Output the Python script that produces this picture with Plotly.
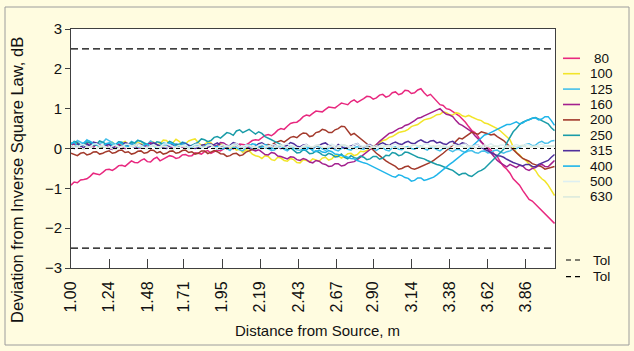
import plotly.graph_objects as go

# ---- data -------------------------------------------------------------
distance_m = [
    1.00, 1.02, 1.04, 1.06, 1.08, 1.10, 1.12, 1.14, 1.16, 1.18, 1.20, 1.22, 1.24, 1.26, 1.28, 1.30, 1.32, 1.34, 1.36, 1.38, 1.40, 1.42,
    1.44, 1.46, 1.48, 1.50, 1.52, 1.54, 1.56, 1.58, 1.60, 1.62, 1.64, 1.66, 1.68, 1.70, 1.72, 1.74, 1.76, 1.78, 1.80, 1.82, 1.84, 1.86,
    1.88, 1.90, 1.92, 1.94, 1.96, 1.98, 2.00, 2.02, 2.04, 2.06, 2.08, 2.10, 2.12, 2.14, 2.16, 2.18, 2.20, 2.22, 2.24, 2.26, 2.28, 2.30,
    2.32, 2.34, 2.36, 2.38, 2.40, 2.42, 2.44, 2.46, 2.48, 2.50, 2.52, 2.54, 2.56, 2.58, 2.60, 2.62, 2.64, 2.66, 2.68, 2.70, 2.72, 2.74,
    2.76, 2.78, 2.80, 2.82, 2.84, 2.86, 2.88, 2.90, 2.92, 2.94, 2.96, 2.98, 3.00, 3.02, 3.04, 3.06, 3.08, 3.10, 3.12, 3.14, 3.16, 3.18,
    3.20, 3.22, 3.24, 3.26, 3.28, 3.30, 3.32, 3.34, 3.36, 3.38, 3.40, 3.42, 3.44, 3.46, 3.48, 3.50, 3.52, 3.54, 3.56, 3.58, 3.60, 3.62,
    3.64, 3.66, 3.68, 3.70, 3.72, 3.74, 3.76, 3.78, 3.80, 3.82, 3.84, 3.86, 3.88, 3.90, 3.92, 3.94, 3.96, 3.98, 4.00, 4.02, 4.04,
]

dev_80 = [
    -0.92, -0.84, -0.86, -0.79, -0.78, -0.76, -0.70, -0.62, -0.64, -0.66, -0.60, -0.53, -0.52, -0.55, -0.50, -0.43, -0.42, -0.45, -0.38, -0.31, -0.35, -0.36,
    -0.30, -0.26, -0.33, -0.34, -0.26, -0.22, -0.31, -0.27, -0.24, -0.18, -0.20, -0.25, -0.23, -0.16, -0.15, -0.19, -0.18, -0.11, -0.12, -0.14, -0.08, -0.05,
    -0.12, -0.08, -0.04, -0.06, -0.02, 0.04, 0.02, -0.01, 0.06, 0.11, 0.10, 0.09, 0.14, 0.20, 0.22, 0.21, 0.27, 0.33, 0.35, 0.32, 0.38, 0.46,
    0.50, 0.48, 0.56, 0.63, 0.65, 0.66, 0.72, 0.80, 0.84, 0.82, 0.88, 0.94, 0.93, 0.92, 0.98, 1.04, 1.03, 1.02, 1.08, 1.14, 1.12, 1.10,
    1.18, 1.22, 1.16, 1.20, 1.25, 1.31, 1.30, 1.24, 1.27, 1.34, 1.36, 1.29, 1.32, 1.40, 1.42, 1.35, 1.38, 1.46, 1.45, 1.38, 1.40, 1.47,
    1.50, 1.40, 1.32, 1.36, 1.28, 1.18, 1.10, 1.08, 1.00, 0.98, 0.93, 0.86, 0.82, 0.74, 0.66, 0.55, 0.45, 0.40, 0.30, 0.16, 0.08, 0.03,
    -0.04, -0.14, -0.20, -0.34, -0.45, -0.52, -0.62, -0.76, -0.84, -0.92, -1.05, -1.18, -1.28, -1.32, -1.40, -1.50, -1.58, -1.64, -1.72, -1.80, -1.88,
]
dev_100 = [
    0.05, 0.14, 0.12, 0.06, 0.08, 0.17, 0.15, 0.07, 0.10, 0.02, 0.04, 0.10, 0.12, 0.16, 0.08, 0.05, 0.14, 0.18, 0.10, 0.13, 0.06, 0.15,
    0.12, 0.07, 0.10, 0.18, 0.16, 0.09, 0.12, 0.21, 0.20, 0.12, 0.14, 0.23, 0.18, 0.10, 0.12, 0.19, 0.22, 0.24, 0.15, 0.08, 0.10, 0.17,
    0.14, 0.06, 0.05, 0.12, 0.08, -0.01, 0.02, 0.04, -0.04, -0.02, -0.10, -0.03, -0.06, -0.14, -0.18, -0.20, -0.25, -0.18, -0.20, -0.28, -0.30, -0.22,
    -0.24, -0.30, -0.32, -0.25, -0.28, -0.35, -0.36, -0.28, -0.30, -0.33, -0.26, -0.30, -0.32, -0.24, -0.22, -0.29, -0.26, -0.17, -0.18, -0.24, -0.20, -0.13,
    -0.12, -0.18, -0.15, -0.07, -0.08, -0.05, -0.02, 0.05, 0.10, 0.13, 0.20, 0.22, 0.28, 0.30, 0.35, 0.40, 0.42, 0.44, 0.48, 0.55, 0.58, 0.60,
    0.66, 0.72, 0.74, 0.76, 0.80, 0.85, 0.86, 0.92, 0.90, 0.85, 0.84, 0.90, 0.88, 0.82, 0.80, 0.83, 0.79, 0.75, 0.72, 0.70, 0.64, 0.62,
    0.58, 0.56, 0.50, 0.44, 0.36, 0.30, 0.22, 0.04, -0.10, -0.16, -0.25, -0.30, -0.40, -0.48, -0.55, -0.68, -0.76, -0.82, -0.92, -1.05, -1.18,
]
dev_125 = [
    0.15, 0.10, 0.20, 0.16, 0.12, 0.22, 0.18, 0.12, 0.08, 0.13, 0.15, 0.24, 0.20, 0.14, 0.10, 0.17, 0.16, 0.11, 0.08, 0.18, 0.14, 0.21,
    0.18, 0.12, 0.10, 0.19, 0.15, 0.09, 0.08, 0.14, 0.12, 0.06, 0.05, 0.12, 0.10, 0.16, 0.14, 0.08, 0.06, 0.12, 0.10, 0.04, 0.02, 0.10,
    0.08, 0.02, -0.02, 0.06, 0.05, 0.00, -0.05, 0.03, 0.02, -0.03, -0.06, 0.02, 0.04, 0.00, -0.02, 0.05, 0.06, 0.02, 0.00, -0.05, -0.04, 0.03,
    0.04, -0.02, -0.06, 0.01, 0.02, -0.03, -0.04, 0.03, 0.05, 0.00, -0.02, 0.06, 0.04, -0.01, -0.05, 0.01, 0.02, -0.03, -0.06, 0.00, 0.03, -0.02,
    -0.04, 0.02, 0.05, 0.00, -0.02, 0.06, 0.04, -0.01, -0.05, 0.01, 0.02, -0.04, -0.06, 0.02, 0.04, -0.02, -0.03, 0.03, 0.05, 0.00, -0.02, 0.04,
    0.06, 0.00, -0.04, 0.02, 0.03, -0.03, -0.06, 0.00, 0.02, -0.04, -0.08, -0.03, -0.02, -0.07, -0.10, -0.06, -0.05, -0.10, -0.12, -0.07, -0.06, -0.11,
    -0.10, -0.05, -0.04, -0.09, -0.12, -0.08, -0.06, -0.01, 0.00, 0.04, 0.06, 0.10, 0.12, 0.07, 0.08, 0.15, 0.18, 0.13, 0.14, 0.19, 0.20,
]
dev_160 = [
    0.08, 0.12, 0.02, 0.04, 0.10, 0.14, 0.05, 0.02, 0.12, 0.08, 0.06, 0.10, 0.00, -0.02, 0.08, 0.11, 0.04, 0.00, 0.10, 0.13, 0.06, 0.01,
    0.02, 0.06, 0.08, 0.14, 0.12, 0.07, 0.05, 0.09, 0.10, 0.02, 0.04, 0.10, 0.08, 0.03, 0.02, 0.07, 0.06, 0.12, 0.10, 0.04, 0.05, 0.11,
    0.12, 0.06, 0.08, 0.15, 0.14, 0.08, 0.06, 0.12, 0.10, 0.02, 0.04, 0.05, 0.00, -0.04, -0.06, -0.03, -0.10, -0.15, -0.16, -0.10, -0.12, -0.19,
    -0.20, -0.24, -0.26, -0.21, -0.22, -0.28, -0.30, -0.25, -0.28, -0.34, -0.36, -0.30, -0.32, -0.38, -0.40, -0.45, -0.44, -0.38, -0.38, -0.44, -0.42, -0.36,
    -0.35, -0.33, -0.28, -0.22, -0.15, -0.10, -0.02, 0.04, 0.10, 0.18, 0.25, 0.30, 0.38, 0.40, 0.45, 0.50, 0.52, 0.58, 0.60, 0.64, 0.70, 0.76,
    0.78, 0.82, 0.86, 0.90, 0.92, 0.97, 1.00, 0.92, 0.86, 0.84, 0.80, 0.70, 0.62, 0.58, 0.52, 0.46, 0.42, 0.32, 0.25, 0.16, 0.08, -0.02,
    -0.10, -0.22, -0.30, -0.36, -0.42, -0.46, -0.40, -0.44, -0.48, -0.42, -0.44, -0.52, -0.55, -0.50, -0.48, -0.43, -0.40, -0.45, -0.46, -0.38, -0.30,
]
dev_200 = [
    -0.12, -0.15, -0.18, -0.12, -0.10, -0.16, -0.14, -0.09, -0.08, -0.14, -0.12, -0.08, -0.06, -0.12, -0.10, -0.05, -0.04, -0.10, -0.08, -0.14, -0.12, -0.07,
    -0.06, -0.12, -0.10, -0.04, -0.05, -0.11, -0.08, -0.14, -0.12, -0.07, -0.06, -0.12, -0.10, -0.05, -0.04, -0.10, -0.08, -0.14, -0.12, -0.06, -0.06, -0.13,
    -0.10, -0.05, -0.08, -0.13, -0.14, -0.20, -0.18, -0.13, -0.12, -0.18, -0.16, -0.09, -0.06, -0.02, 0.00, 0.04, 0.05, 0.09, 0.10, 0.08, 0.14, 0.18,
    0.20, 0.16, 0.22, 0.28, 0.30, 0.27, 0.34, 0.39, 0.38, 0.30, 0.32, 0.40, 0.42, 0.48, 0.46, 0.40, 0.40, 0.47, 0.50, 0.56, 0.55, 0.44,
    0.34, 0.38, 0.32, 0.26, 0.20, 0.12, 0.04, -0.05, -0.12, -0.18, -0.25, -0.31, -0.36, -0.40, -0.45, -0.52, -0.50, -0.46, -0.44, -0.50, -0.52, -0.49,
    -0.46, -0.42, -0.40, -0.35, -0.30, -0.24, -0.20, -0.12, -0.05, 0.02, 0.08, 0.18, 0.26, 0.24, 0.30, 0.36, 0.41, 0.38, 0.36, 0.42, 0.40, 0.37,
    0.34, 0.36, 0.30, 0.26, 0.20, 0.12, 0.04, -0.04, -0.10, -0.18, -0.25, -0.28, -0.32, -0.38, -0.41, -0.44, -0.46, -0.52, -0.50, -0.47, -0.45,
]
dev_250 = [
    0.10, 0.18, 0.15, 0.09, 0.08, 0.16, 0.14, 0.08, 0.10, 0.19, 0.16, 0.11, 0.12, 0.06, 0.09, 0.17, 0.15, 0.08, 0.10, 0.16, 0.13, 0.20,
    0.18, 0.14, 0.12, 0.06, 0.10, 0.17, 0.15, 0.09, 0.11, 0.18, 0.14, 0.08, 0.10, 0.15, 0.12, 0.05, 0.08, 0.13, 0.16, 0.24, 0.22, 0.17,
    0.20, 0.28, 0.30, 0.26, 0.34, 0.40, 0.38, 0.33, 0.44, 0.47, 0.40, 0.45, 0.48, 0.42, 0.36, 0.42, 0.38, 0.30, 0.25, 0.22, 0.18, 0.15,
    0.10, 0.03, -0.02, 0.02, -0.05, -0.11, -0.10, -0.03, -0.06, -0.13, -0.12, -0.06, -0.10, -0.16, -0.18, -0.12, -0.15, -0.21, -0.20, -0.14, -0.22, -0.26,
    -0.18, -0.23, -0.25, -0.19, -0.22, -0.28, -0.26, -0.20, -0.20, -0.27, -0.24, -0.17, -0.18, -0.10, -0.12, -0.18, -0.16, -0.09, -0.10, -0.15, -0.18, -0.22,
    -0.24, -0.26, -0.30, -0.34, -0.36, -0.40, -0.42, -0.46, -0.48, -0.52, -0.55, -0.62, -0.67, -0.63, -0.62, -0.68, -0.70, -0.64, -0.58, -0.55, -0.50, -0.42,
    -0.34, -0.26, -0.18, -0.10, -0.02, 0.14, 0.30, 0.42, 0.50, 0.60, 0.66, 0.70, 0.72, 0.76, 0.78, 0.74, 0.70, 0.66, 0.62, 0.52, 0.45,
]
dev_315 = [
    0.05, 0.00, 0.12, 0.08, 0.02, 0.10, 0.08, 0.16, 0.14, 0.07, 0.04, 0.09, 0.10, 0.03, 0.00, 0.06, 0.08, 0.15, 0.12, 0.06, 0.04, 0.11,
    0.10, 0.05, 0.02, 0.09, 0.14, 0.10, 0.06, 0.01, 0.00, 0.07, 0.10, 0.05, 0.04, 0.13, 0.12, 0.08, 0.06, 0.00, 0.02, 0.08, 0.10, 0.03,
    0.06, 0.11, 0.14, 0.08, 0.04, 0.00, 0.08, 0.15, 0.12, 0.06, 0.02, 0.07, 0.10, 0.04, 0.06, 0.12, 0.14, 0.09, 0.04, 0.00, 0.10, 0.06,
    0.00, 0.05, 0.08, 0.15, 0.12, 0.06, 0.04, 0.09, 0.10, 0.04, 0.02, 0.07, 0.08, 0.12, 0.14, 0.08, 0.04, 0.01, 0.10, 0.05, 0.00, 0.03,
    0.06, 0.10, 0.12, 0.06, 0.02, 0.08, 0.10, 0.04, 0.06, 0.11, 0.14, 0.10, 0.08, 0.13, 0.16, 0.12, 0.10, 0.15, 0.18, 0.13, 0.12, 0.18,
    0.22, 0.17, 0.14, 0.19, 0.20, 0.14, 0.16, 0.12, 0.10, 0.16, 0.18, 0.12, 0.09, 0.14, 0.12, 0.06, 0.04, 0.08, 0.08, 0.02, -0.02, -0.05,
    -0.10, -0.13, -0.18, -0.19, -0.22, -0.27, -0.30, -0.35, -0.38, -0.42, -0.44, -0.40, -0.40, -0.45, -0.46, -0.40, -0.36, -0.34, -0.30, -0.22, -0.15,
]
dev_400 = [
    0.12, 0.16, 0.05, 0.08, 0.14, 0.20, 0.18, 0.12, 0.10, 0.04, 0.06, 0.12, 0.14, 0.09, 0.08, 0.15, 0.12, 0.06, 0.05, 0.12, 0.10, 0.03,
    0.04, 0.09, 0.11, 0.05, 0.07, 0.00, 0.02, 0.10, 0.08, 0.14, 0.12, 0.05, 0.06, 0.12, 0.10, 0.02, 0.03, 0.10, 0.08, 0.02, 0.05, 0.12,
    0.10, 0.03, 0.06, -0.01, 0.00, 0.07, 0.05, 0.10, 0.08, 0.00, 0.02, 0.09, 0.06, 0.12, 0.10, 0.03, 0.04, 0.10, 0.08, 0.00, 0.02, 0.07,
    0.06, 0.01, 0.00, 0.06, 0.04, -0.02, 0.02, -0.04, -0.03, 0.02, -0.06, -0.08, -0.04, -0.09, -0.10, -0.05, -0.08, -0.14, -0.15, -0.17, -0.20, -0.22,
    -0.25, -0.26, -0.30, -0.34, -0.36, -0.38, -0.42, -0.47, -0.50, -0.56, -0.60, -0.62, -0.66, -0.70, -0.72, -0.66, -0.68, -0.73, -0.75, -0.82, -0.80, -0.74,
    -0.74, -0.80, -0.78, -0.75, -0.72, -0.66, -0.59, -0.52, -0.45, -0.40, -0.34, -0.28, -0.22, -0.14, -0.09, -0.02, 0.05, 0.12, 0.20, 0.28, 0.34, 0.36,
    0.40, 0.45, 0.48, 0.52, 0.55, 0.60, 0.60, 0.64, 0.67, 0.62, 0.64, 0.70, 0.72, 0.76, 0.77, 0.72, 0.74, 0.80, 0.80, 0.70, 0.58,
]
dev_500 = [
    0.08, 0.03, 0.02, 0.09, 0.10, 0.05, 0.04, 0.11, 0.12, 0.07, 0.06, 0.01, 0.00, 0.06, 0.09, 0.04, 0.03, 0.10, 0.11, 0.06, 0.05, 0.12,
    0.08, 0.03, 0.01, 0.07, 0.10, 0.05, 0.04, 0.11, 0.12, 0.08, 0.06, 0.02, 0.02, 0.07, 0.09, 0.03, 0.05, 0.10, 0.11, 0.04, 0.03, 0.09,
    0.08, 0.02, 0.00, 0.07, 0.10, 0.05, 0.06, 0.11, 0.12, 0.06, 0.04, 0.09, 0.08, 0.03, 0.02, 0.08, 0.11, 0.06, 0.05, 0.10, 0.09, 0.04,
    0.03, 0.09, 0.12, 0.07, 0.06, 0.02, 0.01, 0.07, 0.10, 0.05, 0.04, 0.09, 0.08, 0.03, 0.02, 0.08, 0.11, 0.07, 0.06, 0.10, 0.09, 0.04,
    0.03, 0.10, 0.12, 0.07, 0.05, 0.09, 0.08, 0.03, 0.01, 0.06, 0.10, 0.05, 0.04, 0.09, 0.11, 0.07, 0.06, 0.01, 0.02, 0.07, 0.09, 0.06,
    0.05, 0.10, 0.12, 0.06, 0.03, 0.07, 0.08, 0.02, 0.00, 0.06, 0.10, 0.08, 0.06, 0.10, 0.11, 0.06, 0.04, 0.08, 0.09, 0.04, 0.02, 0.08,
    0.12, 0.07, 0.05, 0.09, 0.08, 0.04, 0.03, 0.07, 0.10, 0.07, 0.06, 0.10, 0.09, 0.05, 0.04, 0.09, 0.11, 0.07, 0.05, 0.06, 0.08,
]
dev_630 = [
    0.02, 0.06, 0.07, 0.01, -0.02, 0.03, 0.05, 0.00, 0.00, 0.05, 0.08, 0.04, 0.03, -0.01, -0.03, 0.02, 0.06, 0.03, 0.01, 0.06, 0.09, 0.05,
    0.04, 0.00, -0.01, 0.04, 0.07, 0.03, 0.02, 0.06, 0.05, 0.01, -0.02, 0.04, 0.08, 0.05, 0.03, -0.01, 0.00, 0.04, 0.06, 0.03, 0.02, 0.07,
    0.09, 0.03, -0.01, 0.02, 0.05, 0.06, 0.03, 0.08, 0.07, 0.02, 0.00, 0.05, 0.08, 0.06, 0.04, 0.00, -0.02, 0.03, 0.06, 0.05, 0.02, 0.07,
    0.09, 0.04, 0.01, 0.04, 0.05, 0.00, -0.01, 0.04, 0.07, 0.05, 0.03, 0.07, 0.08, 0.03, 0.00, 0.04, 0.06, 0.02, 0.02, 0.07, 0.09, 0.06,
    0.04, 0.00, -0.02, 0.02, 0.05, 0.03, 0.01, 0.05, 0.07, 0.04, 0.03, 0.07, 0.08, 0.03, 0.00, 0.04, 0.06, 0.03, 0.02, 0.06, 0.09, 0.06,
    0.04, 0.02, 0.01, 0.05, 0.07, 0.04, 0.03, 0.06, 0.05, 0.01, -0.01, 0.04, 0.08, 0.05, 0.02, 0.05, 0.06, 0.02, 0.00, 0.05, 0.09, 0.05,
    0.03, 0.06, 0.05, 0.02, 0.01, 0.05, 0.07, 0.06, 0.04, 0.07, 0.08, 0.04, 0.02, 0.05, 0.06, 0.04, 0.03, 0.06, 0.07, 0.06, 0.05,
]

series_labels = ["80", "100", "125", "160", "200", "250", "315", "400", "500", "630"]
series_values = [dev_80, dev_100, dev_125, dev_160, dev_200,
                 dev_250, dev_315, dev_400, dev_500, dev_630]
series_colors = ["#E8287F", "#F2E52A", "#46C0EA", "#A3208E", "#A33A2C",
                 "#1A9CA8", "#50309C", "#1FB5EA", "#DDEFF2", "#DCEADD"]

TOL = 2.5
ZERO_REF = 0.0
tol_labels = ["Tol", "Tol"]
tol_levels = [TOL, -TOL]

x_tick_values = [1.00, 1.24, 1.48, 1.71, 1.95, 2.19, 2.43, 2.67, 2.90, 3.14, 3.38, 3.62, 3.86]
x_tick_labels = ["1.00", "1.24", "1.48", "1.71", "1.95", "2.19", "2.43", "2.67",
                 "2.90", "3.14", "3.38", "3.62", "3.86"]
y_tick_values = [-3, -2, -1, 0, 1, 2, 3]

for lab, vals in zip(series_labels, series_values):
    if len(vals) != len(distance_m):
        raise ValueError(f"series {lab} has {len(vals)} values, expected {len(distance_m)}")

# ---- layout geometry (pixels) ----------------------------------------
W, H = 634, 351
PL, PR, PT, PB = 71, 555, 29, 268
FONT = "Liberation Sans, Arial, Helvetica, sans-serif"


def px_x(px):
    return (px - PL) / (PR - PL)


def px_y(py):
    return (PB - py) / (PB - PT)


fig = go.Figure()

for lab, vals, col in zip(series_labels, series_values, series_colors):
    fig.add_trace(go.Scatter(
        x=distance_m, y=vals, mode="lines", name=lab,
        line=dict(color=col, width=1.5), showlegend=False,
    ))

for lab, lvl in zip(tol_labels, tol_levels):
    fig.add_trace(go.Scatter(
        x=[distance_m[0], distance_m[-1]], y=[lvl, lvl], mode="lines", name=lab,
        line=dict(color="black", width=1.2, dash="7px,4px"), showlegend=False,
    ))

shapes = []
annotations = []

# zero reference dashed line
shapes.append(dict(type="line", xref="paper", yref="y", x0=0, x1=1,
                   y0=ZERO_REF, y1=ZERO_REF, layer="above",
                   line=dict(color="black", width=1.2, dash="4px,3px")))

# outer frame of the chart
shapes.append(dict(type="rect", xref="paper", yref="paper",
                   x0=px_x(5), x1=px_x(629), y0=px_y(345), y1=px_y(7),
                   line=dict(color="#9C9C9C", width=1), layer="above"))

# manual legend (tight row spacing like the original)
row0, step = 58.3, 15.4
LEG_FONT = 13.5
for i, (lab, col) in enumerate(zip(series_labels, series_colors)):
    ry = row0 + step * i
    shapes.append(dict(type="line", xref="paper", yref="paper",
                       x0=px_x(563), x1=px_x(580), y0=px_y(ry), y1=px_y(ry),
                       line=dict(color=col, width=1.6)))
    annotations.append(dict(text=lab, xref="paper", yref="paper",
                            x=px_x(601.5), y=px_y(ry), xanchor="center", yanchor="middle",
                            showarrow=False, borderpad=0,
                            font=dict(size=LEG_FONT, color="#111", family=FONT)))
for j, lab in enumerate(tol_labels):
    ry = 260 + 16.7 * j
    shapes.append(dict(type="line", xref="paper", yref="paper",
                       x0=px_x(566), x1=px_x(580), y0=px_y(ry), y1=px_y(ry),
                       line=dict(color="black", width=1.2, dash="5px,4px")))
    annotations.append(dict(text=lab, xref="paper", yref="paper",
                            x=px_x(601.5), y=px_y(ry), xanchor="center", yanchor="middle",
                            showarrow=False, borderpad=0,
                            font=dict(size=LEG_FONT, color="#111", family=FONT)))

# axis titles
annotations.append(dict(text="Deviation from Inverse Square Law, dB", xref="paper", yref="paper",
                        x=px_x(17), y=px_y(180), xanchor="center", yanchor="middle",
                        textangle=-90, showarrow=False,
                        font=dict(size=16.5, color="#111", family=FONT)))
annotations.append(dict(text="Distance from Source, m", xref="paper", yref="paper",
                        x=px_x(317), y=px_y(330), xanchor="center", yanchor="middle",
                        showarrow=False,
                        font=dict(size=15, color="#111", family=FONT)))

fig.update_layout(
    width=W, height=H,
    margin=dict(l=PL, r=W - PR, t=PT, b=H - PB, pad=0),
    paper_bgcolor="#FFFCE0", plot_bgcolor="white",
    showlegend=False,
    font=dict(family=FONT, size=15, color="#111"),
    shapes=shapes, annotations=annotations,
    xaxis=dict(range=[1.0, 4.043], tickmode="array", tickvals=x_tick_values,
               ticktext=x_tick_labels, tickangle=-90, ticks="inside", ticklen=9,
               tickcolor="#404040", tickwidth=1, showline=True, mirror=True,
               linecolor="#404040", linewidth=1, showgrid=False, zeroline=False,
               tickfont=dict(size=16, family=FONT, color="#111"), ticklabelstandoff=6),
    yaxis=dict(range=[-3, 3], tickmode="array", tickvals=y_tick_values,
               ticks="outside", ticklen=5, tickcolor="#404040", tickwidth=1,
               showline=True, mirror=True, linecolor="#404040", linewidth=1,
               showgrid=False, zeroline=False,
               tickfont=dict(size=15, family=FONT, color="#111")),
)

fig.write_html("out.html", config={"displayModeBar": False},
               post_script="document.body.style.margin='0';")
